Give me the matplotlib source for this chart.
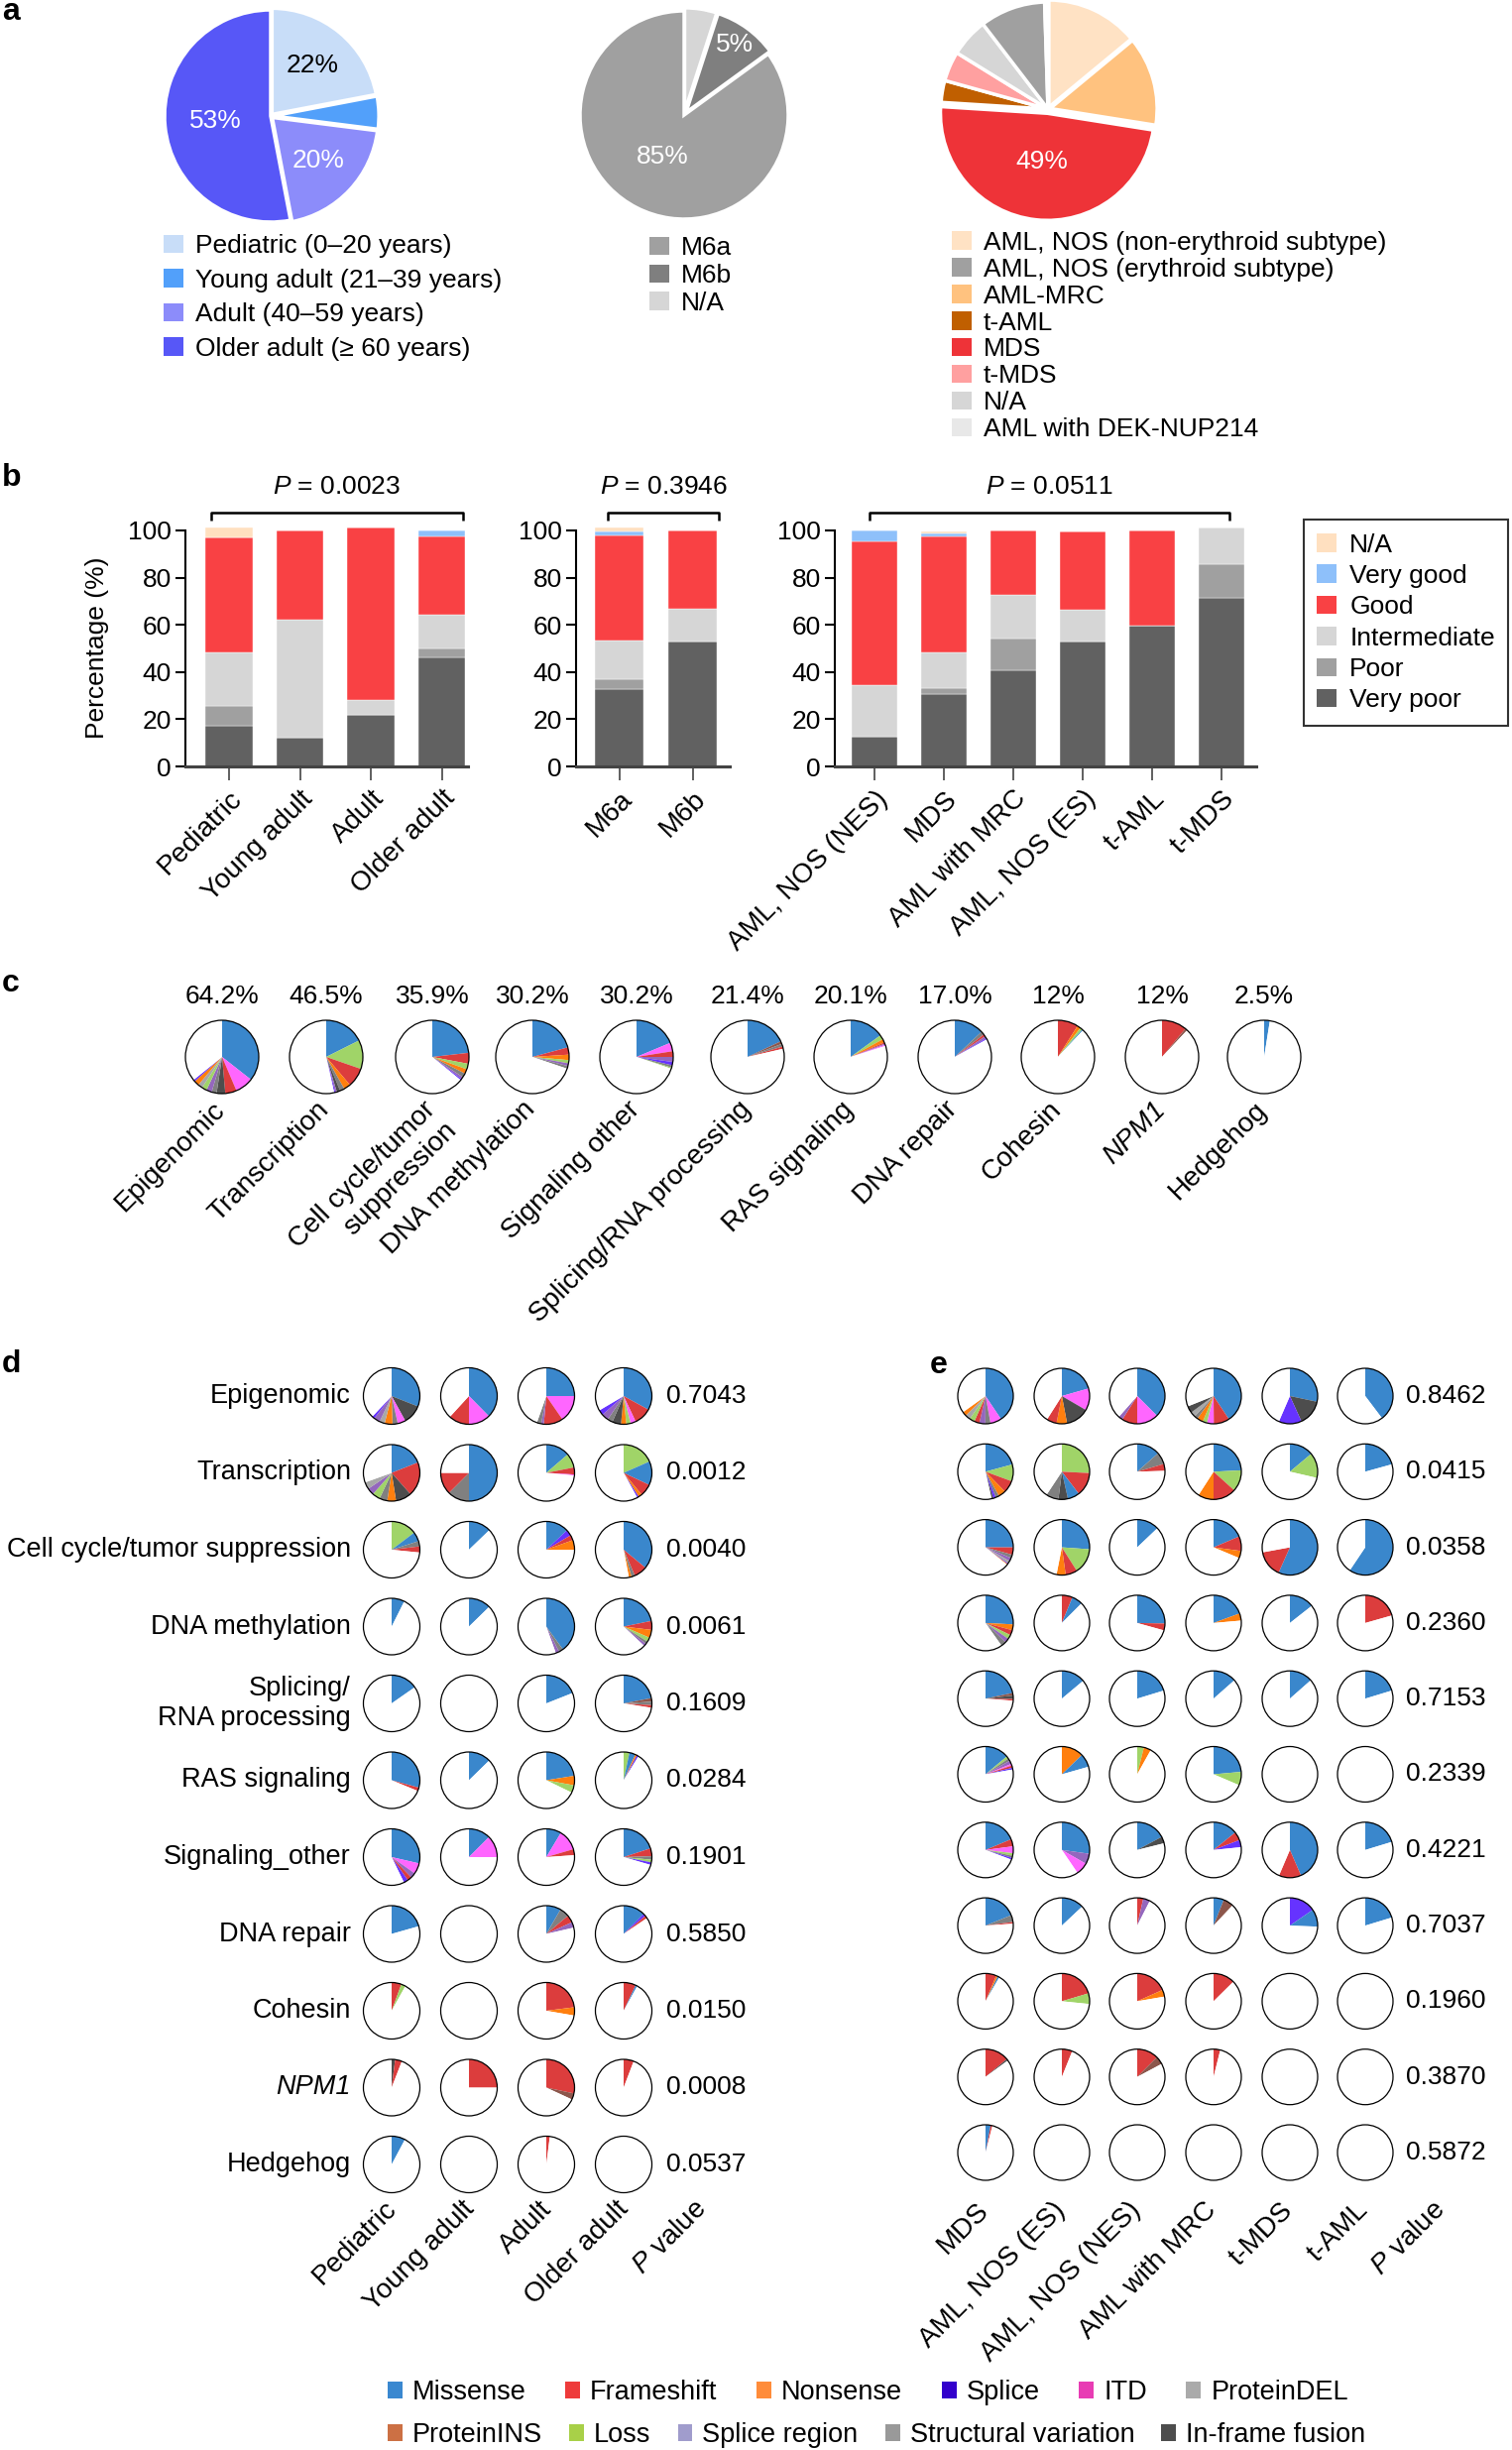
import numpy as np
import matplotlib
matplotlib.use('Agg')
import matplotlib.pyplot as plt
from matplotlib.patches import Patch, Circle

plt.rcParams['font.family'] = ['Liberation Sans', 'DejaVu Sans']
plt.rcParams['mathtext.fontset'] = 'custom'
plt.rcParams['mathtext.rm'] = 'Liberation Sans'
plt.rcParams['mathtext.it'] = 'Liberation Sans:italic'

# ---------------- data: panel a ----------------
age_groups = ['Pediatric (0–20 years)', 'Young adult (21–39 years)',
              'Adult (40–59 years)', 'Older adult (≥ 60 years)']
age_share = [22, 5, 20, 53]
age_colors = ['#C8DDF8', '#52A0FA', '#8C8CFA', '#5757F7']
age_label_colors = ['black', 'white', 'white', 'white']

fab_groups = ['N/A', 'M6b', 'M6a']          # slice order, clockwise from 12 o'clock
fab_share = [5, 10, 85]
fab_slice_labels = ['', '5%', '85%']
fab_colors = ['#D6D6D6', '#7F7F7F', '#A0A0A0']
fab_legend_order = ['M6a', 'M6b', 'N/A']

who_groups = ['AML, NOS (non-erythroid subtype)', 'AML-MRC', 'MDS', 't-AML', 't-MDS',
              'N/A', 'AML, NOS (erythroid subtype)', 'AML with DEK-NUP214']
who_share = [14.0, 13.5, 48.5, 3.3, 4.5, 5.8, 9.9, 0.5]
who_slice_labels = ['', '', '49%', '', '', '', '', '']
who_colors = ['#FFE2C4', '#FFC27F', '#EE3338', '#C05F00', '#FFA0A0', '#D6D6D6', '#A0A0A0', '#E8E8E8']
who_legend_order = ['AML, NOS (non-erythroid subtype)', 'AML, NOS (erythroid subtype)', 'AML-MRC',
                    't-AML', 'MDS', 't-MDS', 'N/A', 'AML with DEK-NUP214']

# ---------------- data: panel b ----------------
risk_classes = ['Very poor', 'Poor', 'Intermediate', 'Good', 'Very good', 'N/A']  # bottom -> top
risk_colors = ['#616161', '#A0A0A0', '#D6D6D6', '#F94144', '#8EC0FA', '#FFE0C0']
risk_legend_order = ['N/A', 'Very good', 'Good', 'Intermediate', 'Poor', 'Very poor']

age_cats = ['Pediatric', 'Young adult', 'Adult', 'Older adult']
age_risk = [
    [17.1, 12.3, 21.7, 46.3],
    [8.4, 0, 0, 3.6],
    [22.9, 49.9, 6.3, 14.2],
    [48.7, 37.7, 73.3, 33.5],
    [0, 0, 0, 2.3],
    [4.2, 0, 0, 0],
]
fab_cats = ['M6a', 'M6b']
fab_risk = [
    [32.6, 53.1],
    [4.5, 0],
    [16.3, 13.6],
    [44.6, 33.2],
    [1.6, 0],
    [1.7, 0],
]
who_cats = ['AML, NOS (NES)', 'MDS', 'AML with MRC', 'AML, NOS (ES)', 't-AML', 't-MDS']
who_risk = [
    [12.7, 30.8, 40.7, 53.0, 59.7, 71.3],
    [0, 2.3, 13.7, 0, 0, 14.4],
    [21.8, 15.4, 18.2, 13.4, 0, 15.6],
    [60.9, 48.8, 27.3, 33.2, 40.2, 0],
    [4.5, 1.3, 0, 0, 0, 0],
    [0, 1.0, 0, 0, 0, 0],
]
b_pvalues = ['0.0023', '0.3946', '0.0511']

# ---------------- mutation types ----------------
mut_types = ['Missense', 'Frameshift', 'Nonsense', 'Splice', 'ITD', 'ProteinDEL',
             'ProteinINS', 'Loss', 'Splice region', 'Structural variation', 'In-frame fusion']
mut_codes = ['M', 'F', 'N', 'S', 'I', 'D', 'P', 'L', 'R', 'V', 'X']
mut_legend_colors = ['#3A88D0', '#EE3B3B', '#FF8C3A', '#3300CC', '#E83CB4', '#AAAAAA',
                     '#CC7044', '#A8D048', '#A09CCC', '#999999', '#4D4D4D']
mut_pie_colors = ['#3A87CC', '#DC3D3D', '#FF7F0E', '#6633FF', '#FF66FF', '#A8A8A8',
                  '#8C564B', '#A0D468', '#9467BD', '#808080', '#4D4D4D']
pie_color = dict(zip(mut_codes, mut_pie_colors))

# ---------------- data: panel c ----------------
c_pathways = ['Epigenomic', 'Transcription', 'Cell cycle/tumor\nsuppression', 'DNA methylation',
              'Signaling other', 'Splicing/RNA processing', 'RAS signaling', 'DNA repair',
              'Cohesin', 'NPM1', 'Hedgehog']
c_freq_labels = ['64.2%', '46.5%', '35.9%', '30.2%', '30.2%', '21.4%', '20.1%', '17.0%', '12%', '12%', '2.5%']
c_mutation_mix = [
    [('M', 35.6), ('I', 8), ('F', 5), ('X', 3.8), ('V', 2.2), ('R', 2.4), ('L', 2.2), ('D', 2), ('N', 2.2), ('S', 0.8)],
    [('M', 17.6), ('L', 12.7), ('F', 8.5), ('N', 3), ('V', 2), ('X', 1.5), ('R', 0.7), ('S', 0.5)],
    [('M', 23.2), ('F', 4.8), ('L', 2.5), ('N', 2), ('V', 1.8), ('R', 1), ('S', 0.6)],
    [('M', 20.8), ('F', 3.2), ('N', 2.4), ('L', 1.4), ('R', 1.2), ('V', 1.2)],
    [('M', 18.7), ('I', 3.8), ('F', 2.5), ('R', 2.2), ('S', 1.5), ('V', 1), ('L', 0.5)],
    [('M', 18), ('P', 1.2), ('V', 1.2), ('F', 1)],
    [('M', 15), ('L', 2), ('N', 1.5), ('F', 0.6), ('R', 0.5), ('I', 0.5)],
    [('M', 13), ('V', 1.5), ('F', 1), ('R', 1), ('S', 0.5)],
    [('F', 9), ('N', 1.5), ('L', 1), ('M', 0.5)],
    [('F', 11), ('P', 1)],
    [('M', 2.5)],
]

# ---------------- data: panel d (age groups) ----------------
d_groups = ['Pediatric', 'Young adult', 'Adult', 'Older adult']
d_pathways = ['Epigenomic', 'Transcription', 'Cell cycle/tumor suppression', 'DNA methylation',
              'Splicing/\nRNA processing', 'RAS signaling', 'Signaling_other', 'DNA repair',
              'Cohesin', 'NPM1', 'Hedgehog']
d_pvalues = ['0.7043', '0.0012', '0.0040', '0.0061', '0.1609', '0.0284', '0.1901',
             '0.5850', '0.0150', '0.0008', '0.0537']
d_epigenomic = [
    [('M', 31), ('X', 11), ('I', 4.5), ('V', 3), ('N', 4.5), ('D', 3), ('R', 3.5), ('S', 1.5)],
    [('M', 37.6), ('I', 12.4), ('F', 11.8)],
    [('M', 25), ('I', 15.4), ('F', 11), ('R', 1.5), ('V', 2.5)],
    [('M', 33), ('F', 10), ('I', 3), ('L', 2.5), ('N', 3), ('X', 5), ('V', 3), ('R', 4), ('S', 3)],
]
d_transcription = [
    [('M', 19), ('F', 19.5), ('X', 9), ('N', 5), ('V', 4.5), ('L', 4.5), ('R', 4), ('D', 4)],
    [('M', 50), ('V', 12.5), ('F', 12.5)],
    [('M', 13.7), ('L', 8.2), ('F', 4), ('I', 0.6)],
    [('L', 18.4), ('M', 13.6), ('F', 7), ('N', 2), ('S', 1)],
]
d_cellcycle = [
    [('L', 14.7), ('M', 5.4), ('V', 3), ('F', 3.5)],
    [('M', 12.8)],
    [('M', 13), ('S', 3.5), ('F', 3), ('N', 5.5)],
    [('M', 36), ('F', 7.5), ('V', 2), ('N', 1.5)],
]
d_dnameth = [
    [('M', 7.4)],
    [('M', 12.7)],
    [('M', 40), ('V', 2.5), ('R', 2)],
    [('M', 21.8), ('F', 5.1), ('N', 4.6), ('L', 2.5), ('V', 1.5), ('R', 1.5)],
]
d_splicing = [
    [('M', 15.3)],
    [],
    [('M', 19)],
    [('M', 22), ('P', 2), ('V', 2), ('F', 1.5)],
]
d_ras = [
    [('M', 29.2), ('F', 2)],
    [('M', 12.7)],
    [('M', 22.5), ('N', 5.4), ('L', 4.3)],
    [('L', 3.3), ('M', 3.5), ('N', 1), ('S', 1)],
]
d_signaling = [
    [('M', 28.6), ('I', 6.2), ('R', 3), ('F', 2.5), ('S', 2.5)],
    [('M', 12.5), ('I', 12.5)],
    [('M', 8.6), ('I', 11.9), ('F', 3.4)],
    [('M', 20), ('F', 4.5), ('V', 2), ('L', 1.5), ('S', 1.5)],
]
d_dnarepair = [
    [('M', 20.6)],
    [],
    [('M', 8.4), ('V', 5.5), ('F', 4.3), ('R', 3.2)],
    [('M', 12.5), ('S', 1.5), ('F', 1.5)],
]
d_cohesin = [
    [('F', 5.6), ('L', 2.5)],
    [],
    [('F', 23), ('N', 4.7)],
    [('F', 7), ('M', 1)],
]
d_npm1 = [
    [('X', 2), ('F', 3.9)],
    [('F', 25)],
    [('F', 28.3), ('P', 3.6)],
    [('F', 5.8)],
]
d_hedgehog = [
    [('M', 7.8)],
    [],
    [('F', 2)],
    [],
]
d_rows = [d_epigenomic, d_transcription, d_cellcycle, d_dnameth, d_splicing, d_ras,
          d_signaling, d_dnarepair, d_cohesin, d_npm1, d_hedgehog]

# ---------------- data: panel e (diagnosis groups) ----------------
e_groups = ['MDS', 'AML, NOS (ES)', 'AML, NOS (NES)', 'AML with MRC', 't-MDS', 't-AML']
e_pvalues = ['0.8462', '0.0415', '0.0358', '0.2360', '0.7153', '0.2339', '0.4221',
             '0.7037', '0.1960', '0.3870', '0.5872']
e_epigenomic = [
    [('M', 40.6), ('I', 6.5), ('V', 3), ('R', 3.5), ('F', 3), ('L', 3), ('D', 3), ('N', 2.5)],
    [('M', 20.6), ('I', 12.8), ('X', 13.6), ('N', 6.1), ('F', 5.9)],
    [('M', 37.5), ('I', 12.5), ('F', 9), ('R', 2.5)],
    [('M', 40.7), ('F', 9.2), ('I', 4), ('L', 2.5), ('N', 3.5), ('V', 2), ('D', 3), ('X', 4)],
    [('M', 28.3), ('X', 14.9), ('S', 13.3)],
    [('M', 39.7)],
]
e_transcription = [
    [('M', 20.8), ('L', 9.8), ('F', 7.1), ('N', 4.3), ('V', 2), ('S', 1.5), ('X', 1)],
    [('L', 25.8), ('F', 13.8), ('M', 6.9), ('X', 5.5), ('V', 7.3)],
    [('M', 13.5), ('V', 7), ('F', 4)],
    [('M', 24.2), ('L', 12.5), ('F', 13.3), ('N', 9.1)],
    [('M', 13.9), ('L', 14.7)],
    [('M', 20.7)],
]
e_cellcycle = [
    [('M', 25), ('F', 4.3), ('V', 2), ('R', 2), ('D', 1.5), ('S', 0.5), ('N', 0.5)],
    [('M', 26.1), ('L', 14.9), ('F', 6.8), ('N', 5.3)],
    [('M', 12.9)],
    [('M', 18.6), ('F', 8.5), ('N', 4.2)],
    [('M', 56.7), ('F', 15.4)],
    [('M', 59.4)],
]
e_dnameth = [
    [('M', 25.8), ('N', 3.4), ('F', 3), ('L', 2.5), ('R', 2.5), ('V', 3)],
    [('F', 6.2), ('M', 6.3)],
    [('M', 25.3), ('F', 4)],
    [('M', 19.4), ('N', 4.2)],
    [('M', 14.4)],
    [('F', 20.6)],
]
e_splicing = [
    [('M', 21.7), ('P', 1.5), ('X', 2), ('F', 1)],
    [('M', 13.9)],
    [('M', 20.3)],
    [('M', 13.5)],
    [('M', 13.5)],
    [('M', 20.3)],
]
e_ras = [
    [('M', 13.9), ('L', 1.5), ('V', 1.5), ('R', 2), ('I', 1), ('F', 1.3), ('S', 1)],
    [('N', 12.8), ('M', 7.8)],
    [('L', 3.9), ('N', 4.2)],
    [('M', 23.6), ('L', 7.8)],
    [],
    [],
]
e_signaling = [
    [('M', 18.7), ('F', 4.2), ('I', 4), ('L', 1.5), ('V', 1.2), ('S', 1.1)],
    [('M', 27.2), ('R', 6.1), ('I', 7.2)],
    [('M', 17.2), ('X', 3.9)],
    [('M', 14.2), ('F', 5), ('S', 4.2)],
    [('M', 43.5), ('F', 12.9)],
    [('M', 20.3)],
]
e_dnarepair = [
    [('M', 18.9), ('V', 4), ('F', 1)],
    [('M', 13)],
    [('F', 3.5), ('R', 4)],
    [('M', 6), ('P', 6)],
    [('S', 15.4), ('M', 10.2)],
    [('M', 20.3)],
]
e_cohesin = [
    [('F', 6.3), ('N', 1), ('M', 1)],
    [('F', 20.4), ('L', 6.2)],
    [('F', 18.3), ('N', 4)],
    [('F', 12.6)],
    [],
    [],
]
e_npm1 = [
    [('F', 13.9), ('X', 1)],
    [('F', 6.1)],
    [('F', 12.5), ('P', 4.7)],
    [('F', 3.9)],
    [],
    [],
]
e_hedgehog = [
    [('M', 3), ('F', 1)],
    [], [], [], [], [],
]
e_rows = [e_epigenomic, e_transcription, e_cellcycle, e_dnameth, e_splicing, e_ras,
          e_signaling, e_dnarepair, e_cohesin, e_npm1, e_hedgehog]

# ---------------- figure helpers ----------------
W, H = 1525, 2471
fig = plt.figure(figsize=(W / 100, H / 100), dpi=100)
FS = 19
FS_ROT = 20


def fx(x):
    return x / W


def fy(y):
    return 1 - y / H


def px_axes(left, top, width, height):
    return fig.add_axes([left / W, 1 - (top + height) / H, width / W, height / H])


def big_pie(cx, cy, r, shares, colors, explode, labels, label_dist, label_colors):
    pad = 1.12
    ax = px_axes(cx - r * pad, cy - r * pad, 2 * r * pad, 2 * r * pad)
    wedges, _ = ax.pie(shares, colors=colors, startangle=90, counterclock=False,
                       explode=explode, radius=1,
                       wedgeprops=dict(edgecolor='white', linewidth=2.5))
    for w, t, d, c in zip(wedges, labels, label_dist, label_colors):
        if not t:
            continue
        ang = np.deg2rad((w.theta1 + w.theta2) / 2)
        ax.text(w.center[0] + d * np.cos(ang), w.center[1] + d * np.sin(ang), t,
                ha='center', va='center', fontsize=FS, color=c)
    ax.set_xlim(-pad, pad)
    ax.set_ylim(-pad, pad)
    ax.set_aspect('equal')
    ax.axis('off')
    return ax


def mutation_pie(cx, cy, r, wedges):
    pad = 1.1
    ax = px_axes(cx - r * pad, cy - r * pad, 2 * r * pad, 2 * r * pad)
    vals = [v for _, v in wedges]
    cols = [pie_color[c] for c, _ in wedges]
    rest = max(100 - sum(vals), 0)
    ax.pie(vals + [rest], colors=cols + ['white'], startangle=90, counterclock=False,
           radius=1, wedgeprops=dict(linewidth=0))
    ax.add_patch(Circle((0, 0), 1, fill=False, edgecolor='black', linewidth=0.9))
    ax.set_xlim(-pad, pad)
    ax.set_ylim(-pad, pad)
    ax.set_aspect('equal')
    ax.axis('off')


def square_handles(colors):
    return [Patch(facecolor=c, edgecolor='none') for c in colors]


# panel letters
for letter, (x, y) in zip('abcde', [(2, 12), (2, 482), (2, 992), (2, 1376), (938, 1377)]):
    fig.text(fx(x), fy(y), letter, fontsize=23, fontweight='bold', ha='left', va='center')

# ---------------- panel a ----------------
big_pie(273, 117, 107, age_share, age_colors, [0.02, 0.02, 0.02, 0],
        ['22%', '', '20%', '53%'], [0.6, 0.6, 0.6, 0.52], age_label_colors)
big_pie(690, 116, 105, fab_share, fab_colors, [0.03, 0.03, 0],
        fab_slice_labels, [0, 0.8, 0.45], ['black', 'white', 'white'])
big_pie(1057, 110, 108, who_share, who_colors, [0.02, 0.02, 0.04, 0, 0, 0, 0, 0],
        who_slice_labels, [0.45] * 8, ['white'] * 8)

fig.legend(square_handles(age_colors), age_groups, loc='center left',
           bbox_to_anchor=(fx(165), fy(300)), frameon=False, fontsize=FS,
           handlelength=0.75, handleheight=0.7, handletextpad=0.45,
           labelspacing=0.4, borderpad=0, borderaxespad=0)
fab_col = dict(zip(fab_groups, fab_colors))
fig.legend(square_handles([fab_col[g] for g in fab_legend_order]), fab_legend_order,
           loc='center left', bbox_to_anchor=(fx(655), fy(278)), frameon=False, fontsize=FS,
           handlelength=0.75, handleheight=0.7, handletextpad=0.45,
           labelspacing=0.15, borderpad=0, borderaxespad=0)
who_col = dict(zip(who_groups, who_colors))
fig.legend(square_handles([who_col[g] for g in who_legend_order]), who_legend_order,
           loc='center left', bbox_to_anchor=(fx(960), fy(339)), frameon=False, fontsize=FS,
           handlelength=0.75, handleheight=0.7, handletextpad=0.45,
           labelspacing=0.11, borderpad=0, borderaxespad=0)

# ---------------- panel b ----------------
B_BOTTOM = 773
PX_PER_UNIT = 2.38
YTOP = 102


def risk_panel(left, right, c0, sp, cats, risk, pval, bracket, width):
    top = B_BOTTOM - YTOP * PX_PER_UNIT
    ax = px_axes(left, top, right - left, B_BOTTOM - top)
    x = np.arange(len(cats))
    base = np.zeros(len(cats))
    for vals, col in zip(risk, risk_colors):
        vals = np.array(vals, dtype=float)
        ax.bar(x, vals, width, bottom=base, color=col, edgecolor='white', linewidth=0.3)
        base += vals
    ax.set_xlim((left - c0) / sp, (right - c0) / sp)
    ax.set_ylim(0, YTOP)
    ax.set_yticks([0, 20, 40, 60, 80, 100])
    ax.set_xticks(x)
    ax.set_xticklabels(cats, rotation=45, ha='right', rotation_mode='anchor', fontsize=FS_ROT)
    ax.tick_params(axis='y', length=7, width=1.5, labelsize=FS, pad=3)
    ax.tick_params(axis='x', length=10, width=1.2, pad=4, color='#444444')
    for s in ['top', 'right']:
        ax.spines[s].set_visible(False)
    ax.spines['left'].set_bounds(0, 100)
    ax.spines['left'].set_linewidth(1.5)
    ax.spines['bottom'].set_linewidth(2.2)
    ax.spines['bottom'].set_color('#444444')
    a, b = bracket
    ax.plot([a, a, b, b], [104.3, 107.6, 107.6, 104.3], color='black', lw=1.8,
            clip_on=False, solid_capstyle='butt')
    ax.text((a + b) / 2, 118.5, r'$\mathit{P}$ = ' + pval, ha='center', va='center',
            fontsize=FS, clip_on=False)
    return ax


risk_panel(187, 472, 231, 71.5, age_cats, age_risk, b_pvalues[0], (-0.25, 3.3), 0.66)
risk_panel(581, 736, 624.5, 74, fab_cats, fab_risk, b_pvalues[1], (-0.15, 1.36), 0.66)
risk_panel(842, 1267, 882, 70, who_cats, who_risk, b_pvalues[2], (-0.07, 5.11), 0.67)
fig.text(fx(98), fy(653), 'Percentage (%)', rotation=90, ha='center', va='center', fontsize=FS)

risk_col = dict(zip(risk_classes, risk_colors))
leg_b = fig.legend(square_handles([risk_col[k] for k in risk_legend_order]), risk_legend_order,
                   loc='center left', bbox_to_anchor=(fx(1315), fy(628)), frameon=True,
                   fancybox=False, edgecolor='black', fontsize=FS, handlelength=0.75,
                   handleheight=0.7, handletextpad=0.5, labelspacing=0.28,
                   borderpad=0.5, borderaxespad=0)
leg_b.get_frame().set_linewidth(1.5)

# ---------------- panel c ----------------
c_pie_x = [224, 329, 436, 537, 642, 754, 858, 963, 1067, 1172, 1275]
for cx, mix, freq, name in zip(c_pie_x, c_mutation_mix, c_freq_labels, c_pathways):
    mutation_pie(cx, 1066, 37, mix)
    fig.text(fx(cx), fy(1005), freq, ha='center', va='center', fontsize=FS)
    fig.text(fx(cx - 10), fy(1106), name, rotation=45, ha='right', va='top',
             rotation_mode='anchor', fontsize=FS_ROT,
             fontstyle='italic' if name == 'NPM1' else 'normal')

# ---------------- panel d ----------------
d_col_x = [395, 473, 551, 629]
d_pcol_x = 707
for i, (name, row, pv) in enumerate(zip(d_pathways, d_rows, d_pvalues)):
    y = 1408 + 77.5 * i
    fig.text(fx(354), fy(y), name, ha='right', va='center', fontsize=19.5,
             fontstyle='italic' if name == 'NPM1' else 'normal', linespacing=1.15)
    for cx, mix in zip(d_col_x, row):
        mutation_pie(cx, y, 28.5, mix)
    fig.text(fx(672), fy(y), pv, ha='left', va='center', fontsize=FS)
for cx, name in zip(d_col_x + [d_pcol_x], d_groups + [r'$\mathit{P}$ value']):
    fig.text(fx(cx - 8), fy(2215), name, rotation=45, ha='right', va='top',
             rotation_mode='anchor', fontsize=FS_ROT)

# ---------------- panel e ----------------
e_col_x = [994, 1071, 1147, 1224, 1301, 1377]
e_pcol_x = 1454
for i, (row, pv) in enumerate(zip(e_rows, e_pvalues)):
    y = 1408 + 76.3 * i
    for cx, mix in zip(e_col_x, row):
        mutation_pie(cx, y, 28, mix)
    fig.text(fx(1418), fy(y), pv, ha='left', va='center', fontsize=FS)
for cx, name in zip(e_col_x + [e_pcol_x], e_groups + [r'$\mathit{P}$ value']):
    fig.text(fx(cx - 10), fy(2216), name, rotation=45, ha='right', va='top',
             rotation_mode='anchor', fontsize=FS_ROT)

# ---------------- mutation legend ----------------
leg_kw = dict(loc='center left', frameon=False, fontsize=19.5, handlelength=0.55,
              handleheight=0.55, handletextpad=0.37, borderpad=0, borderaxespad=0)
fig.legend(square_handles(mut_legend_colors[:6]), mut_types[:6], ncol=6,
           bbox_to_anchor=(fx(391), fy(2413)), columnspacing=1.46, **leg_kw)
fig.legend(square_handles(mut_legend_colors[6:]), mut_types[6:], ncol=5,
           bbox_to_anchor=(fx(391), fy(2456)), columnspacing=1.0, **leg_kw)

fig.savefig('out.png', dpi=100, facecolor='white')
